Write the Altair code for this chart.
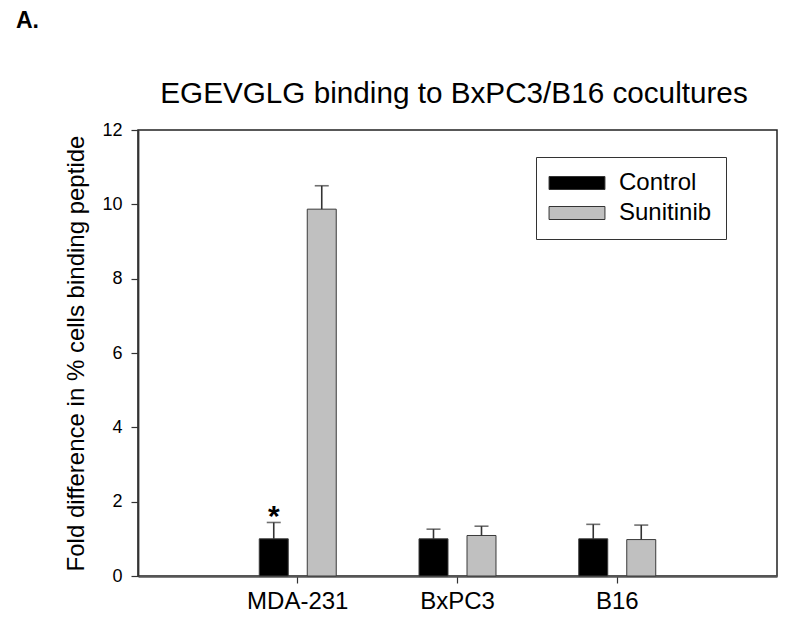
import altair as alt
import pandas as pd

groups = ["MDA-231", "BxPC3", "B16"]
series = ["Control", "Sunitinib"]
control_vals = [1.0, 1.0, 1.0]
control_upper = [1.44, 1.26, 1.39]
sunitinib_vals = [9.87, 1.09, 0.98]
sunitinib_upper = [10.5, 1.34, 1.37]
control_sig = ["*", "", ""]
sunitinib_sig = ["", "", ""]
colors = ["#000000", "#c0c0c0"]
y_ticks = [0, 2, 4, 6, 8, 10, 12]
title_text = "EGEVGLG binding to BxPC3/B16 cocultures"
panel_text = "A."

rows = []
for i, g in enumerate(groups):
    rows.append({"group": g, "series": "Control", "value": control_vals[i],
                 "upper": control_upper[i], "sig": control_sig[i]})
    rows.append({"group": g, "series": "Sunitinib", "value": sunitinib_vals[i],
                 "upper": sunitinib_upper[i], "sig": sunitinib_sig[i]})
df = pd.DataFrame(rows)

FONT = "Liberation Sans"

x_enc = alt.X("group:N", sort=groups,
              scale=alt.Scale(domain=groups, paddingInner=0, paddingOuter=0.5),
              axis=alt.Axis(title=None, labelAngle=0))
xoff = alt.XOffset("series:N", sort=series,
                   scale=alt.Scale(domain=series, paddingInner=0.396, paddingOuter=0.862))

base = alt.Chart(df)

bars = base.mark_bar(stroke="#3a3a3a", strokeWidth=1).encode(
    x=x_enc,
    xOffset=xoff,
    y=alt.Y("value:Q", scale=alt.Scale(domain=[0, 12], nice=False),
            axis=alt.Axis(values=y_ticks, title="Fold difference in % cells binding peptide")),
    color=alt.Color("series:N", sort=series,
                    scale=alt.Scale(domain=series, range=colors),
                    legend=alt.Legend(title=None, orient="none", legendX=398, legendY=27,
                                      strokeColor="#333", fillColor="white", padding=14,
                                      labelFontSize=24, labelFont=FONT, labelColor="#000",
                                      symbolType="M-4.3,-1H4.3V1H-4.3Z", symbolSize=169,
                                      symbolStrokeColor="#333", symbolStrokeWidth=1,
                                      symbolOpacity=1, symbolOffset=15, labelOffset=30,
                                      rowPadding=6)),
)

err = base.mark_rule(color="#333", strokeWidth=1.6).encode(
    x=alt.X("group:N", sort=groups), xOffset=xoff,
    y="value:Q", y2="upper:Q")

caps = base.mark_tick(color="#333", thickness=1.6, size=14, orient="horizontal").encode(
    x=alt.X("group:N", sort=groups), xOffset=xoff, y="upper:Q")

stars = base.mark_text(fontSize=30, fontWeight="bold", font=FONT, baseline="alphabetic",
                       dy=4, color="#000").encode(
    x=alt.X("group:N", sort=groups), xOffset=xoff, y="upper:Q", text="sig:N")

label_a = alt.Chart(pd.DataFrame({"t": [panel_text]})).mark_text(
    fontSize=23, fontWeight="bold", font=FONT, align="left", baseline="alphabetic",
    color="#000").encode(x=alt.value(-122), y=alt.value(-102), text="t:N")

title_mark = alt.Chart(pd.DataFrame({"t": [title_text]})).mark_text(
    fontSize=29.7, font=FONT, align="center", baseline="alphabetic",
    color="#000").encode(x=alt.value(316), y=alt.value(-27), text="t:N")

chart = alt.layer(bars, err, caps, stars, label_a, title_mark).properties(
    width=639, height=446,
    background="white",
    padding={"left": 130, "top": 122, "right": 15, "bottom": 40},
    autosize=alt.AutoSizeParams(type="none"),
).configure_view(
    stroke="#222", strokeWidth=1.5
).configure_axisX(
    labelFontSize=24, labelFont=FONT, labelColor="#000", tickSize=7, tickColor="#333",
    tickWidth=1.2, labelPadding=6, domainColor="#555", domainWidth=2.5, grid=False
).configure_axisY(
    titleFontSize=24, titleFont=FONT, titleFontWeight="normal", titleColor="#000",
    titleAngle=-90, titleX=-55, titleY=223, titleAlign="center", titleBaseline="alphabetic",
    labelFontSize=18, labelFont=FONT, labelColor="#000", tickSize=7, tickColor="#333",
    tickWidth=1.2, labelPadding=9, grid=False, domainColor="#333", domainWidth=1.8
)

chart.save("out.html", embed_options={"renderer": "svg", "actions": False})
